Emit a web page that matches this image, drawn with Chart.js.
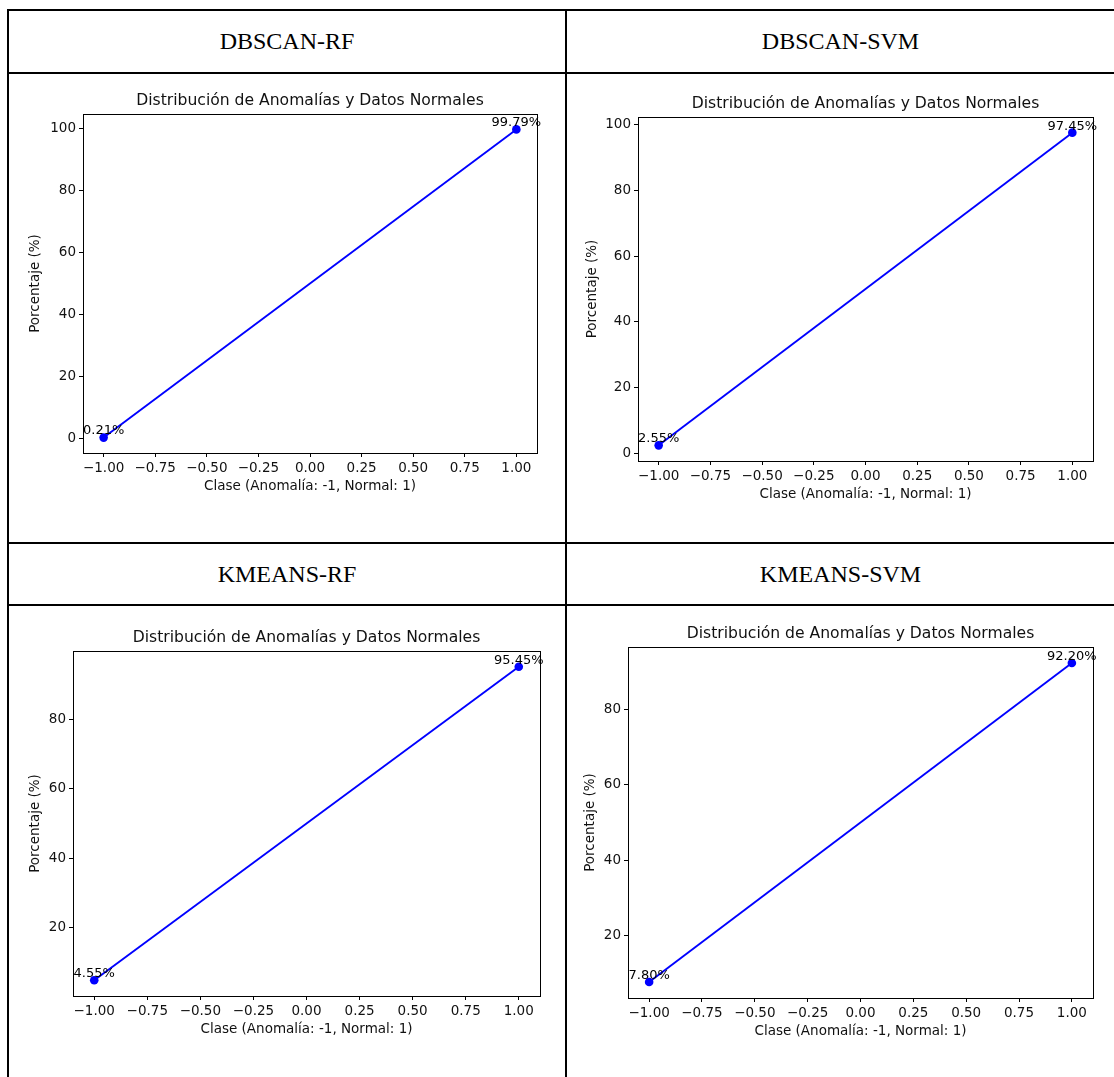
<!DOCTYPE html>
<html>
<head>
<meta charset="utf-8">
<script src="https://cdn.jsdelivr.net/npm/chart.js@4.4.0/dist/chart.umd.min.js"></script>
<style>
html,body{margin:0;padding:0;background:#fff;width:1114px;height:1077px;overflow:hidden;}
.line{position:absolute;background:#000;}
.hdr{position:absolute;display:flex;align-items:center;justify-content:center;font-family:"Liberation Serif","Times New Roman",serif;font-size:24px;color:#000;}
canvas{position:absolute;}
</style>
</head>
<body>
<div class="line" style="left:7px;top:9px;width:1120px;height:2px;"></div>
<div class="line" style="left:7px;top:72px;width:1120px;height:2px;"></div>
<div class="line" style="left:7px;top:542px;width:1120px;height:2px;"></div>
<div class="line" style="left:7px;top:604px;width:1120px;height:2px;"></div>
<div class="line" style="left:7px;top:9px;width:2px;height:1100px;"></div>
<div class="line" style="left:565px;top:9px;width:2px;height:1100px;"></div>

<div class="hdr" id="h0" style="left:9px;top:11px;width:556px;height:61px;"></div>
<div class="hdr" id="h1" style="left:567px;top:11px;width:547px;height:61px;"></div>
<div class="hdr" id="h2" style="left:9px;top:544px;width:556px;height:60px;"></div>
<div class="hdr" id="h3" style="left:567px;top:544px;width:547px;height:60px;"></div>

<canvas id="c0" width="556" height="468" style="left:9px;top:74px;"></canvas>
<canvas id="c1" width="547" height="468" style="left:567px;top:74px;"></canvas>
<canvas id="c2" width="556" height="471" style="left:9px;top:606px;"></canvas>
<canvas id="c3" width="547" height="471" style="left:567px;top:606px;"></canvas>

<script>
// ---- data ----
const panelNames = ["DBSCAN-RF", "DBSCAN-SVM", "KMEANS-RF", "KMEANS-SVM"];
const classes = [-1, 1];
const dbscanRF = [0.21, 99.79];
const dbscanSVM = [2.55, 97.45];
const kmeansRF = [4.55, 95.45];
const kmeansSVM = [7.80, 92.20];
const xTicks = [-1, -0.75, -0.5, -0.25, 0, 0.25, 0.5, 0.75, 1];
const yTicksDbscanRF = [0, 20, 40, 60, 80, 100];
const yTicksDbscanSVM = [0, 20, 40, 60, 80, 100];
const yTicksKmeansRF = [20, 40, 60, 80];
const yTicksKmeansSVM = [20, 40, 60, 80];
const chartTitle = "Distribución de Anomalías y Datos Normales";
const xLabel = "Clase (Anomalía: -1, Normal: 1)";
const yLabel = "Porcentaje (%)";

const seriesList = [dbscanRF, dbscanSVM, kmeansRF, kmeansSVM];
const yTickList = [yTicksDbscanRF, yTicksDbscanSVM, yTicksKmeansRF, yTicksKmeansSVM];

// ---- layout (padding + fixed axis box sizes) ----
const layouts = [
  {pl: 18, pt: 40, pr: 28, pb: 47, yw: 56, xh: 42},
  {pl: 17, pt: 43, pr: 21, pb: 39, yw: 54, xh: 42},
  {pl: 18, pt: 45, pr: 25, pb: 39, yw: 46, xh: 42},
  {pl: 15, pt: 41, pr: 21, pb: 37, yw: 46, xh: 42}
];

const FONT = "'DejaVu Sans', sans-serif";
const INK = '#111';
const TICK_SIZE = 13.5;

function withMargin(vals) {
  const mn = Math.min(...vals), mx = Math.max(...vals);
  const m = (mx - mn) * 0.05;
  return [mn - m, mx + m];
}

const framePlugin = {
  id: 'frame',
  afterDraw(chart) {
    const a = chart.chartArea, ctx = chart.ctx;
    ctx.save();
    ctx.strokeStyle = '#000';
    ctx.lineWidth = 1;
    ctx.strokeRect(Math.round(a.left) + 0.5, Math.round(a.top) + 0.5,
                   Math.round(a.right - a.left), Math.round(a.bottom - a.top));
    // title
    ctx.fillStyle = INK;
    ctx.font = "15.6px " + FONT;
    ctx.textAlign = 'center';
    ctx.textBaseline = 'middle';
    ctx.fillText(chartTitle, (a.left + a.right) / 2, a.top - 13);
    ctx.restore();
  },
  afterDatasetsDraw(chart) {
    const ctx = chart.ctx;
    ctx.save();
    ctx.fillStyle = '#000';
    ctx.font = "13px " + FONT;
    ctx.textAlign = 'center';
    ctx.textBaseline = 'bottom';
    chart.data.datasets.forEach((ds, di) => {
      chart.getDatasetMeta(di).data.forEach((el, i) => {
        ctx.fillText(ds.data[i].y.toFixed(2) + '%', el.x, el.y);
      });
    });
    ctx.restore();
  }
};

panelNames.forEach((name, idx) => {
  document.getElementById('h' + idx).textContent = name;
  const vals = seriesList[idx];
  const L = layouts[idx];
  const [ymin, ymax] = withMargin(vals);
  const [xmin, xmax] = withMargin(classes);
  const yTicks = yTickList[idx];
  new Chart(document.getElementById('c' + idx), {
    type: 'line',
    data: {
      datasets: [{
        data: classes.map((c, i) => ({x: c, y: vals[i]})),
        borderColor: '#0000ff',
        backgroundColor: '#0000ff',
        borderWidth: 1.9,
        pointRadius: 4.3,
        pointBorderWidth: 0,
        pointBackgroundColor: '#0000ff',
        tension: 0,
        fill: false,
        clip: false
      }]
    },
    options: {
      responsive: false,
      animation: false,
      events: [],
      layout: {padding: {left: L.pl, top: L.pt, right: L.pr, bottom: L.pb}},
      plugins: {legend: {display: false}, tooltip: {enabled: false}, title: {display: false}},
      scales: {
        x: {
          type: 'linear',
          min: xmin, max: xmax,
          bounds: 'data',
          afterBuildTicks: (s) => { s.ticks = xTicks.map(v => ({value: v})); },
          afterFit: (s) => { s.height = L.xh; },
          grid: {display: true, drawOnChartArea: false, drawTicks: true, tickLength: 4, tickColor: '#000', tickWidth: 1},
          border: {display: true, color: '#000', width: 1},
          ticks: {
            color: INK, padding: 3, maxRotation: 0, autoSkip: false,
            font: {family: FONT, size: TICK_SIZE},
            callback: (v) => v.toFixed(2).replace('-', '\u2212')
          },
          title: {display: true, text: xLabel, color: INK, padding: {top: 0, bottom: 0}, font: {family: FONT, size: TICK_SIZE}}
        },
        y: {
          type: 'linear',
          min: ymin, max: ymax,
          bounds: 'data',
          afterBuildTicks: (s) => { s.ticks = yTicks.map(v => ({value: v})); },
          afterFit: (s) => { s.width = L.yw; },
          grid: {display: true, drawOnChartArea: false, drawTicks: true, tickLength: 4, tickColor: '#000', tickWidth: 1},
          border: {display: true, color: '#000', width: 1},
          ticks: {
            color: INK, padding: 3, autoSkip: false,
            font: {family: FONT, size: TICK_SIZE},
            callback: (v) => String(v)
          },
          title: {display: true, text: yLabel, color: INK, padding: {top: 0, bottom: 0}, font: {family: FONT, size: TICK_SIZE}}
        }
      }
    },
    plugins: [framePlugin]
  });
});
</script>
</body>
</html>
